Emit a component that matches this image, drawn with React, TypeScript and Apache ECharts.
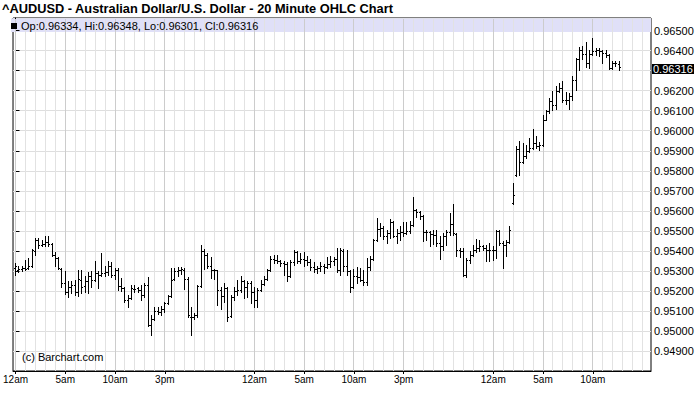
import React, { useEffect, useRef } from "react";
import * as echarts from "echarts";

const TITLE = "^AUDUSD - Australian Dollar/U.S. Dollar - 20 Minute OHLC Chart";
const COPYRIGHT = "(c) Barchart.com";

// 20-minute bars, index 0 = 12am day 1
const opens = [
  0.95313, 0.95302, 0.95308, 0.95313, 0.95313, 0.95322, 0.95397, 0.95452, 0.95430, 0.95435,
  0.95442, 0.95435, 0.95380, 0.95363, 0.95308, 0.95238, 0.95197, 0.95222, 0.95230, 0.95197,
  0.95255, 0.95225, 0.95247, 0.95272, 0.95255, 0.95288, 0.95280, 0.95288, 0.95292, 0.95322,
  0.95280, 0.95305, 0.95225, 0.95213, 0.95155, 0.95163, 0.95208, 0.95213, 0.95205, 0.95180,
  0.95230, 0.95030, 0.95058, 0.95102, 0.95097, 0.95108, 0.95138, 0.95175, 0.95258, 0.95297,
  0.95305, 0.95305, 0.95258, 0.95072, 0.95072, 0.95080, 0.95225, 0.95397, 0.95380, 0.95325,
  0.95305, 0.95302, 0.95205, 0.95175, 0.95213, 0.95075, 0.95168, 0.95202, 0.95205, 0.95247,
  0.95222, 0.95238, 0.95197, 0.95155, 0.95205, 0.95235, 0.95258, 0.95305, 0.95358, 0.95352,
  0.95347, 0.95338, 0.95335, 0.95272, 0.95342, 0.95392, 0.95347, 0.95358, 0.95355, 0.95342,
  0.95318, 0.95308, 0.95313, 0.95322, 0.95318, 0.95335, 0.95347, 0.95358, 0.95305, 0.95397,
  0.95322, 0.95297, 0.95218, 0.95272, 0.95268, 0.95255, 0.95242, 0.95318, 0.95358, 0.95452,
  0.95508, 0.95513, 0.95472, 0.95488, 0.95542, 0.95475, 0.95488, 0.95492, 0.95488, 0.95497,
  0.95530, 0.95602, 0.95592, 0.95575, 0.95492, 0.95492, 0.95485, 0.95480, 0.95438, 0.95422,
  0.95472, 0.95492, 0.95535, 0.95485, 0.95405, 0.95397, 0.95280, 0.95355, 0.95380, 0.95402,
  0.95413, 0.95422, 0.95413, 0.95405, 0.95402, 0.95405, 0.95497, 0.95438, 0.95430, 0.95442,
  0.95638, 0.95780, 0.95908, 0.95842, 0.95872, 0.95897, 0.95913, 0.95938, 0.95925, 0.95930,
  0.96055, 0.96097, 0.96147, 0.96130, 0.96197, 0.96213, 0.96155, 0.96152, 0.96172, 0.96255,
  0.96358, 0.96405, 0.96385, 0.96338, 0.96385, 0.96397, 0.96405, 0.96397, 0.96388, 0.96380,
  0.96313, 0.96338, 0.96334,
];
const highs = [
  0.95338, 0.95322, 0.95322, 0.95355, 0.95363, 0.95408, 0.95463, 0.95463, 0.95455, 0.95475,
  0.95472, 0.95438, 0.95392, 0.95368, 0.95313, 0.95297, 0.95247, 0.95247, 0.95252, 0.95302,
  0.95305, 0.95272, 0.95292, 0.95297, 0.95347, 0.95297, 0.95388, 0.95322, 0.95347, 0.95342,
  0.95313, 0.95313, 0.95263, 0.95222, 0.95180, 0.95230, 0.95230, 0.95222, 0.95230, 0.95238,
  0.95268, 0.95080, 0.95118, 0.95118, 0.95125, 0.95147, 0.95180, 0.95313, 0.95313, 0.95318,
  0.95318, 0.95313, 0.95268, 0.95118, 0.95088, 0.95230, 0.95430, 0.95408, 0.95388, 0.95368,
  0.95308, 0.95305, 0.95222, 0.95238, 0.95222, 0.95180, 0.95222, 0.95255, 0.95272, 0.95255,
  0.95247, 0.95247, 0.95222, 0.95213, 0.95255, 0.95275, 0.95308, 0.95372, 0.95380, 0.95380,
  0.95355, 0.95347, 0.95342, 0.95355, 0.95402, 0.95397, 0.95388, 0.95392, 0.95375, 0.95358,
  0.95342, 0.95322, 0.95342, 0.95335, 0.95368, 0.95375, 0.95368, 0.95413, 0.95413, 0.95408,
  0.95402, 0.95305, 0.95308, 0.95318, 0.95313, 0.95305, 0.95363, 0.95375, 0.95458, 0.95563,
  0.95538, 0.95522, 0.95505, 0.95558, 0.95547, 0.95508, 0.95522, 0.95542, 0.95542, 0.95547,
  0.95668, 0.95608, 0.95597, 0.95580, 0.95505, 0.95497, 0.95505, 0.95502, 0.95475, 0.95488,
  0.95505, 0.95588, 0.95635, 0.95488, 0.95413, 0.95413, 0.95363, 0.95397, 0.95430, 0.95458,
  0.95455, 0.95430, 0.95430, 0.95438, 0.95425, 0.95505, 0.95505, 0.95447, 0.95452, 0.95525,
  0.95738, 0.95922, 0.95947, 0.95938, 0.95930, 0.95963, 0.96008, 0.95972, 0.95942, 0.96080,
  0.96105, 0.96163, 0.96197, 0.96222, 0.96238, 0.96247, 0.96192, 0.96188, 0.96272, 0.96363,
  0.96418, 0.96425, 0.96442, 0.96402, 0.96463, 0.96413, 0.96413, 0.96405, 0.96402, 0.96385,
  0.96347, 0.96347, 0.96348,
];
const lows = [
  0.95280, 0.95292, 0.95297, 0.95302, 0.95308, 0.95318, 0.95380, 0.95413, 0.95422, 0.95422,
  0.95425, 0.95375, 0.95322, 0.95308, 0.95222, 0.95185, 0.95168, 0.95192, 0.95180, 0.95175,
  0.95192, 0.95197, 0.95188, 0.95222, 0.95247, 0.95213, 0.95272, 0.95275, 0.95280, 0.95268,
  0.95258, 0.95205, 0.95202, 0.95147, 0.95118, 0.95158, 0.95197, 0.95197, 0.95155, 0.95168,
  0.95025, 0.94980, 0.95055, 0.95085, 0.95080, 0.95097, 0.95135, 0.95168, 0.95252, 0.95275,
  0.95285, 0.95208, 0.95072, 0.94980, 0.95058, 0.95072, 0.95222, 0.95308, 0.95313, 0.95263,
  0.95258, 0.95130, 0.95108, 0.95147, 0.95052, 0.95072, 0.95155, 0.95180, 0.95197, 0.95163,
  0.95168, 0.95142, 0.95122, 0.95118, 0.95202, 0.95230, 0.95255, 0.95297, 0.95338, 0.95338,
  0.95322, 0.95280, 0.95247, 0.95268, 0.95330, 0.95338, 0.95338, 0.95325, 0.95330, 0.95305,
  0.95292, 0.95288, 0.95297, 0.95288, 0.95313, 0.95318, 0.95330, 0.95292, 0.95280, 0.95297,
  0.95280, 0.95197, 0.95213, 0.95238, 0.95247, 0.95230, 0.95230, 0.95305, 0.95355, 0.95447,
  0.95472, 0.95458, 0.95438, 0.95463, 0.95468, 0.95438, 0.95452, 0.95472, 0.95485, 0.95488,
  0.95525, 0.95568, 0.95558, 0.95447, 0.95455, 0.95425, 0.95435, 0.95422, 0.95358, 0.95405,
  0.95430, 0.95480, 0.95480, 0.95372, 0.95368, 0.95272, 0.95268, 0.95338, 0.95375, 0.95392,
  0.95397, 0.95402, 0.95347, 0.95347, 0.95355, 0.95363, 0.95430, 0.95313, 0.95372, 0.95438,
  0.95635, 0.95775, 0.95780, 0.95838, 0.95863, 0.95892, 0.95908, 0.95913, 0.95902, 0.95922,
  0.96052, 0.96088, 0.96105, 0.96108, 0.96192, 0.96142, 0.96135, 0.96108, 0.96152, 0.96202,
  0.96305, 0.96358, 0.96318, 0.96313, 0.96380, 0.96380, 0.96372, 0.96338, 0.96368, 0.96308,
  0.96308, 0.96322, 0.96301,
];
const closes = [
  0.95322, 0.95308, 0.95313, 0.95308, 0.95322, 0.95402, 0.95452, 0.95430, 0.95435, 0.95442,
  0.95435, 0.95380, 0.95363, 0.95313, 0.95238, 0.95197, 0.95222, 0.95230, 0.95197, 0.95258,
  0.95222, 0.95247, 0.95272, 0.95255, 0.95288, 0.95280, 0.95288, 0.95292, 0.95322, 0.95280,
  0.95305, 0.95225, 0.95213, 0.95155, 0.95163, 0.95213, 0.95208, 0.95205, 0.95180, 0.95230,
  0.95030, 0.95058, 0.95102, 0.95097, 0.95108, 0.95138, 0.95175, 0.95255, 0.95297, 0.95305,
  0.95308, 0.95258, 0.95080, 0.95072, 0.95080, 0.95225, 0.95397, 0.95380, 0.95325, 0.95305,
  0.95302, 0.95205, 0.95175, 0.95213, 0.95072, 0.95168, 0.95202, 0.95205, 0.95247, 0.95222,
  0.95238, 0.95197, 0.95155, 0.95205, 0.95235, 0.95258, 0.95305, 0.95358, 0.95352, 0.95347,
  0.95338, 0.95335, 0.95272, 0.95342, 0.95392, 0.95347, 0.95358, 0.95355, 0.95342, 0.95318,
  0.95308, 0.95313, 0.95322, 0.95318, 0.95335, 0.95347, 0.95358, 0.95305, 0.95405, 0.95322,
  0.95297, 0.95218, 0.95272, 0.95268, 0.95255, 0.95242, 0.95318, 0.95358, 0.95452, 0.95508,
  0.95513, 0.95472, 0.95488, 0.95542, 0.95475, 0.95488, 0.95492, 0.95488, 0.95497, 0.95530,
  0.95602, 0.95592, 0.95575, 0.95492, 0.95492, 0.95485, 0.95480, 0.95438, 0.95422, 0.95472,
  0.95492, 0.95535, 0.95488, 0.95405, 0.95397, 0.95280, 0.95355, 0.95380, 0.95402, 0.95413,
  0.95422, 0.95413, 0.95405, 0.95402, 0.95405, 0.95497, 0.95438, 0.95430, 0.95442, 0.95505,
  0.95680, 0.95908, 0.95842, 0.95872, 0.95897, 0.95913, 0.95938, 0.95925, 0.95930, 0.96055,
  0.96097, 0.96147, 0.96130, 0.96197, 0.96213, 0.96155, 0.96152, 0.96172, 0.96255, 0.96358,
  0.96405, 0.96385, 0.96338, 0.96385, 0.96397, 0.96405, 0.96397, 0.96388, 0.96380, 0.96313,
  0.96338, 0.96338, 0.96316,
];

// time axis labels (bar index where each label sits)
const xTickIndex = [0, 15, 30, 45, 72, 87, 102, 117, 144, 159, 174];
const xTickLabels = ["12am", "5am", "10am", "3pm", "12am", "5am", "10am", "3pm", "12am", "5am", "10am"];

// price axis
const Y_MIN = 0.948;
const Y_MAX = 0.96563;
const Y_STEP = 0.001;

// bar-index axis range (3 bars = 10px)
const X_MIN = -0.75;
const X_MAX = 191.55;

const FONT = '"Liberation Sans", Arial, Helvetica, sans-serif';

export default function App() {
  const ref = useRef<HTMLDivElement>(null);

  useEffect(() => {
    const chart = echarts.init(ref.current!, null, { renderer: "svg" });
    const n = opens.length;
    const last = n - 1;
    const data = opens.map((o, i) => [i, o, highs[i], lows[i], closes[i]]);

    const lastClose = closes[last];
    const legendText =
      "Op:" + opens[last].toFixed(5) +
      ", Hi:" + highs[last].toFixed(5) +
      ", Lo:" + lows[last].toFixed(5) +
      ", Cl:" + lastClose.toFixed(5);

    chart.setOption({
      animation: false,
      backgroundColor: "#ffffff",
      grid: {
        left: 10,
        right: 49,
        top: 18,
        bottom: 40,
        show: true,
        borderColor: "#000",
        borderWidth: 1,
        backgroundColor: "transparent",
      },
      xAxis: {
        type: "value",
        min: X_MIN,
        max: X_MAX,
        axisLine: { show: true, lineStyle: { color: "#000", width: 1 } },
        axisTick: {
          show: true,
          length: 3,
          customValues: xTickIndex,
          lineStyle: { color: "#000" },
        },
        axisLabel: {
          show: true,
          customValues: xTickIndex,
          margin: 3,
          color: "#000",
          fontFamily: FONT,
          fontSize: 10,
          formatter: (v: number) => {
            const k = xTickIndex.indexOf(Math.round(v));
            return k >= 0 ? xTickLabels[k] : "";
          },
        },
        splitLine: { show: false },
      },
      yAxis: {
        type: "value",
        position: "right",
        min: Y_MIN,
        max: Y_MAX,
        interval: Y_STEP,
        axisLine: { show: true, lineStyle: { color: "#000", width: 1 } },
        axisTick: { show: true, length: 4, lineStyle: { color: "#000" } },
        axisLabel: {
          show: true,
          margin: 3,
          color: "#000",
          fontFamily: FONT,
          fontSize: 11,
          showMinLabel: false,
          showMaxLabel: false,
          formatter: (v: number) => {
            if (v < 0.9485 || v > 0.9651) return "";
            if (Math.abs(v - 0.963) < 1e-7) return "";
            return v.toFixed(5);
          },
        },
        splitLine: { show: true, lineStyle: { color: "#dedede", width: 1 } },
      },
      series: [
        {
          type: "custom",
          name: "AUDUSD",
          z: 10,
          data,
          encode: { x: 0, y: [1, 2, 3, 4] },
          renderItem: (_params: any, api: any) => {
            const x = api.value(0);
            const ph = api.coord([x, api.value(2)]);
            const pl = api.coord([x, api.value(3)]);
            const po = api.coord([x, api.value(1)]);
            const pc = api.coord([x, api.value(4)]);
            const X = Math.floor(ph[0]);
            const yh = Math.round(ph[1]);
            const yl = Math.round(pl[1]);
            const yo = Math.round(po[1]);
            const yc = Math.round(pc[1]);
            const style = { fill: "#000" };
            return {
              type: "group",
              children: [
                { type: "rect", shape: { x: X, y: yh, width: 1, height: Math.max(1, yl - yh + 1) }, style },
                { type: "rect", shape: { x: X - 1, y: yo, width: 1, height: 1 }, style },
                { type: "rect", shape: { x: X + 1, y: yc, width: 1, height: 1 }, style },
              ],
            };
          },
        },
      ],
    });

    const yc = chart.convertToPixel({ yAxisIndex: 0 }, lastClose) as number;
    const yTop = chart.convertToPixel({ yAxisIndex: 0 }, Y_MAX) as number;
    const yBot = chart.convertToPixel({ yAxisIndex: 0 }, Y_MIN) as number;

    // hourly vertical grid lines (every 3 bars), darker at labelled times
    const gridRects: any[] = [];
    for (let i = 0; i <= 189; i += 3) {
      const px = chart.convertToPixel({ xAxisIndex: 0 }, i) as number;
      const major = xTickIndex.includes(i);
      gridRects.push({
        type: "rect",
        z: 1,
        silent: true,
        shape: { x: Math.floor(px), y: Math.round(yTop) + 1, width: 1, height: Math.round(yBot) - Math.round(yTop) - 1 },
        style: { fill: major ? "#cccccc" : "#e2e2e2" },
      });
    }

    chart.setOption({
      graphic: [
        {
          type: "rect",
          z: 0,
          shape: { x: 11, y: 18.5, width: 640, height: 13.5 },
          style: { fill: "#e0e0f8" },
          silent: true,
        },
        ...gridRects,
        {
          type: "rect",
          z: 20,
          shape: { x: 11, y: 23, width: 6, height: 6 },
          style: { fill: "#000" },
        },
        {
          type: "text",
          z: 20,
          x: 21,
          y: 26,
          style: {
            text: legendText,
            font: "11px " + FONT,
            fill: "#000",
            textVerticalAlign: "middle",
          },
        },
        {
          type: "text",
          z: 20,
          x: 2,
          y: 8,
          style: {
            text: TITLE,
            font: "bold 12.8px " + FONT,
            fill: "#000",
            textVerticalAlign: "middle",
          },
        },
        {
          type: "text",
          z: 20,
          x: 22,
          y: 356.5,
          style: {
            text: COPYRIGHT,
            font: "11px " + FONT,
            fill: "#000",
            textVerticalAlign: "middle",
          },
        },
        {
          type: "rect",
          z: 20,
          shape: { x: 652, y: Math.round(yc) - 3, width: 42, height: 10 },
          style: { fill: "#000" },
        },
        {
          type: "text",
          z: 21,
          x: 653,
          y: Math.round(yc) + 2,
          style: {
            text: lastClose.toFixed(5),
            font: "11px " + FONT,
            fill: "#fff",
            textVerticalAlign: "middle",
          },
        },
      ],
    });

    return () => chart.dispose();
  }, []);

  return (
    <div
      ref={ref}
      style={{ position: "absolute", left: 0, top: 0, width: 700, height: 411 }}
    />
  );
}
